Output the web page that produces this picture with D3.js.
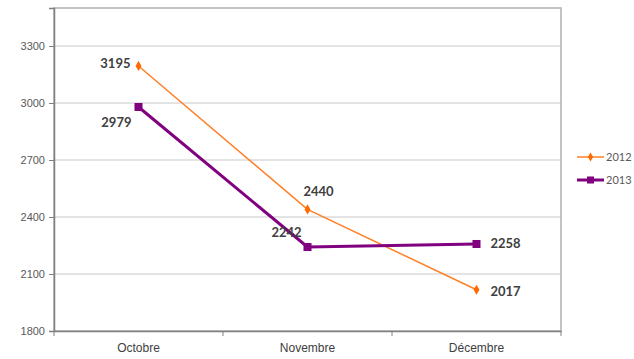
<!DOCTYPE html>
<html>
<head>
<meta charset="utf-8">
<script src="https://cdn.jsdelivr.net/npm/d3@7"></script>
<style>
  body { margin: 0; background: #fff; }
  svg { display: block; font-family: Lato, "Open Sans", sans-serif; }
</style>
</head>
<body>
<div id="chart"></div>
<script>
const months = ["Octobre", "Novembre", "Décembre"];
const values2012 = [3195, 2440, 2017];
const values2013 = [2979, 2242, 2258];
const yTicks = [1800, 2100, 2400, 2700, 3000, 3300];
const seriesNames = ["2012", "2013"];

const width = 634, height = 359;
const margin = { top: 8, right: 73, bottom: 28, left: 54 };
const innerW = width - margin.left - margin.right;
const innerH = height - margin.top - margin.bottom;

const svg = d3.select("#chart").append("svg")
  .attr("width", width)
  .attr("height", height);

const g = svg.append("g")
  .attr("transform", `translate(${margin.left},${margin.top})`);

const x = d3.scaleBand().domain(months).range([0, innerW]);
const y = d3.scaleLinear().domain([1800, 3500]).range([innerH, 0]);

// gridlines
g.selectAll(".grid")
  .data(yTicks.slice(1))
  .enter().append("line")
  .attr("x1", 0).attr("x2", innerW)
  .attr("y1", d => y(d)).attr("y2", d => y(d))
  .attr("stroke", "#c8c8c8").attr("stroke-width", 1);

// plot border
g.append("rect")
  .attr("x", 0).attr("y", 0)
  .attr("width", innerW).attr("height", innerH)
  .attr("fill", "none").attr("stroke", "#b0b0b0").attr("stroke-width", 1.5);

// y axis
const yAxis = g.append("g")
  .call(d3.axisLeft(y).tickValues(yTicks).tickSize(5).tickPadding(4).tickFormat(d3.format("d")));
yAxis.select(".domain").attr("stroke", "#808080").attr("stroke-width", 1.5);
yAxis.selectAll(".tick line").attr("stroke", "#808080");
yAxis.selectAll("text").attr("fill", "#595959").style("font-size", "11px");

// x axis
const xAxis = g.append("g")
  .attr("transform", `translate(0,${innerH})`)
  .call(d3.axisBottom(x).tickSize(0).tickPadding(12));
xAxis.select(".domain").attr("stroke", "#808080").attr("stroke-width", 1.5);
xAxis.selectAll("text").attr("fill", "#404040").style("font-size", "12px");
// category boundary ticks
g.selectAll(".xtick")
  .data([0, 1, 2, 3])
  .enter().append("line")
  .attr("x1", i => i * x.step()).attr("x2", i => i * x.step())
  .attr("y1", innerH).attr("y2", innerH + 5)
  .attr("stroke", "#808080");

const cx = d => x(d) + x.bandwidth() / 2;
const line = d3.line().x(d => cx(d.m)).y(d => y(d.v));

const data2012 = months.map((m, i) => ({ m, v: values2012[i] }));
const data2013 = months.map((m, i) => ({ m, v: values2013[i] }));

// 2012 series
g.append("path").datum(data2012)
  .attr("d", line).attr("fill", "none")
  .attr("stroke", "#ff7f27").attr("stroke-width", 1.5);
g.selectAll(".m2012").data(data2012).enter().append("path")
  .attr("d", d3.symbol().type(d3.symbolDiamond).size(30))
  .attr("transform", d => `translate(${cx(d.m)},${y(d.v)})`)
  .attr("fill", "#ff6a00");

// 2013 series
g.append("path").datum(data2013)
  .attr("d", line).attr("fill", "none")
  .attr("stroke", "#800080").attr("stroke-width", 3);
g.selectAll(".m2013").data(data2013).enter().append("rect")
  .attr("x", d => cx(d.m) - 4).attr("y", d => y(d.v) - 4)
  .attr("width", 8).attr("height", 8)
  .attr("fill", "#800080");

// data labels
const off2012 = [[-8, 2, "end"], [11, -13, "middle"], [14, 6, "start"]];
const off2013 = [[-7, 20, "end"], [-21, -10, "middle"], [14, 4, "start"]];
function labels(data, offs) {
  g.selectAll(null).data(data).enter().append("text")
    .attr("x", (d, i) => cx(d.m) + offs[i][0])
    .attr("y", (d, i) => y(d.v) + offs[i][1])
    .attr("text-anchor", (d, i) => offs[i][2])
    .attr("fill", "#404040")
    .style("font-size", "13px").style("font-weight", "bold")
    .text(d => d.v);
}
labels(data2012, off2012);
labels(data2013, off2013);

// legend
const legend = svg.append("g").attr("transform", `translate(577,157)`);
const legendItems = [
  { name: seriesNames[0], color: "#ff7f27", w: 1.5, marker: "diamond" },
  { name: seriesNames[1], color: "#800080", w: 3, marker: "square" }
];
legendItems.forEach((it, i) => {
  const row = legend.append("g").attr("transform", `translate(0,${i * 23})`);
  row.append("line").attr("x1", 0).attr("x2", 27).attr("y1", 0).attr("y2", 0)
    .attr("stroke", it.color).attr("stroke-width", it.w);
  if (it.marker === "diamond") {
    row.append("path").attr("d", d3.symbol().type(d3.symbolDiamond).size(24))
      .attr("transform", "translate(13.5,0)").attr("fill", "#ff6a00");
  } else {
    row.append("rect").attr("x", 10).attr("y", -3.5).attr("width", 7).attr("height", 7)
      .attr("fill", it.color);
  }
  row.append("text").attr("x", 29).attr("y", 4)
    .attr("fill", "#595959").style("font-size", "11px").text(it.name);
});
</script>
</body>
</html>
